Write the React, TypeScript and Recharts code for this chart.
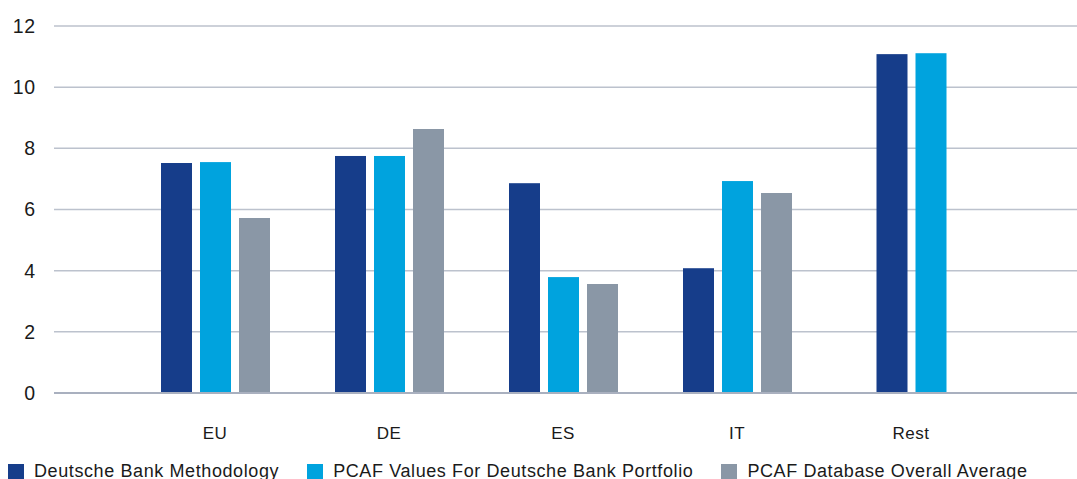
import React from 'react';
import { BarChart, Bar, XAxis, YAxis, CartesianGrid, Legend } from 'recharts';

const regions = ['EU', 'DE', 'ES', 'IT', 'Rest'];
const dbMethodology = [7.52, 7.75, 6.86, 4.08, 11.08];
const pcafPortfolio = [7.55, 7.75, 3.79, 6.93, 11.11];
const pcafAverage: (number | null)[] = [5.72, 8.63, 3.56, 6.54, null];
const yTicks = [0, 2, 4, 6, 8, 10, 12];

const seriesNames = [
  'Deutsche Bank Methodology',
  'PCAF Values For Deutsche Bank Portfolio',
  'PCAF Database Overall Average',
];
const seriesColors = ['#163d8a', '#00a3de', '#8a97a6'];

const data = regions.map((r, i) => ({
  region: r,
  db: dbMethodology[i],
  pcaf: pcafPortfolio[i],
  avg: pcafAverage[i],
}));

const BAR = 31;
const GAP = 8;
const TEXT = '#1a1a1a';
const FONT = '"Liberation Sans", Arial, Helvetica, sans-serif';

// categories missing the third series get their two bars centred in the band
const shiftedBar = (props: any) => {
  const { x, y, width, height, fill, payload } = props;
  const shift = payload && payload.avg == null ? (BAR + GAP) / 2 : 0;
  return <rect x={x + shift} y={y} width={width} height={height} fill={fill} />;
};

// legend kept in series order (recharts would sort it by name)
const LegendContent = () => (
  <div style={{ display: 'flex', gap: 28, paddingLeft: 8, paddingTop: 8, fontFamily: FONT, fontSize: 18, letterSpacing: 0.6, color: TEXT }}>
    {seriesNames.map((name, i) => (
      <div key={name} style={{ display: 'flex', alignItems: 'center', gap: 10, whiteSpace: 'nowrap' }}>
        <span style={{ width: 16, height: 16, background: seriesColors[i], display: 'inline-block' }} />
        <span>{name}</span>
      </div>
    ))}
  </div>
);

export default function App() {
  return (
    <div style={{ position: 'absolute', left: 0, top: 0, background: '#fff' }}>
      <BarChart
        width={1077}
        height={479}
        data={data}
        margin={{ top: 26, right: 0, bottom: 0, left: 0 }}
        barSize={BAR}
        barGap={GAP}
      >
        <CartesianGrid vertical={false} stroke="#bcc2cd" strokeWidth={1.5} />
        <XAxis
          dataKey="region"
          height={60}
          padding={{ left: 74, right: 79 }}
          tickLine={false}
          axisLine={{ stroke: '#a9b0bf', strokeWidth: 2 }}
          tickMargin={28}
          tick={{ fill: TEXT, fontSize: 17, fontFamily: FONT, letterSpacing: 0.5 }}
        />
        <YAxis
          width={54}
          domain={[0, 12]}
          ticks={yTicks}
          axisLine={false}
          tickLine={false}
          tickSize={0}
          tickMargin={18}
          tick={{ fill: TEXT, fontSize: 19.5, fontFamily: FONT, letterSpacing: 0.8 }}
        />
        <Legend verticalAlign="bottom" align="left" height={26} content={<LegendContent />} />
        <Bar dataKey="db" name={seriesNames[0]} fill={seriesColors[0]} shape={shiftedBar} isAnimationActive={false} />
        <Bar dataKey="pcaf" name={seriesNames[1]} fill={seriesColors[1]} shape={shiftedBar} isAnimationActive={false} />
        <Bar dataKey="avg" name={seriesNames[2]} fill={seriesColors[2]} isAnimationActive={false} />
      </BarChart>
    </div>
  );
}
